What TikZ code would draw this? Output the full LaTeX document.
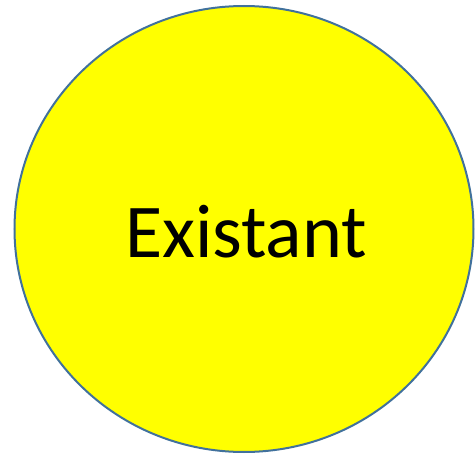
\documentclass[tikz,border=0pt]{standalone}
\usepackage{fontspec}
\setmainfont{Carlito}
\usetikzlibrary{shapes.geometric}
\definecolor{rimblue}{HTML}{41719C}
\definecolor{fillyellow}{HTML}{FFFF00}
\tikzset{
  bubble/.style={ellipse,draw=rimblue,line width=2pt,fill=fillyellow,
    minimum width=459pt,minimum height=446pt,inner sep=0pt},
  bubbletext/.style={font=\fontsize{76}{80}\selectfont,text=black}
}
\begin{document}
\begin{tikzpicture}[x=1pt,y=-1pt]
\useasboundingbox (0,0) rectangle (475,455);
\node[bubble] (existant) at (244,229) {};
\node[bubbletext,anchor=base] (label) at (246,257) {Existant};
\end{tikzpicture}
\end{document}
